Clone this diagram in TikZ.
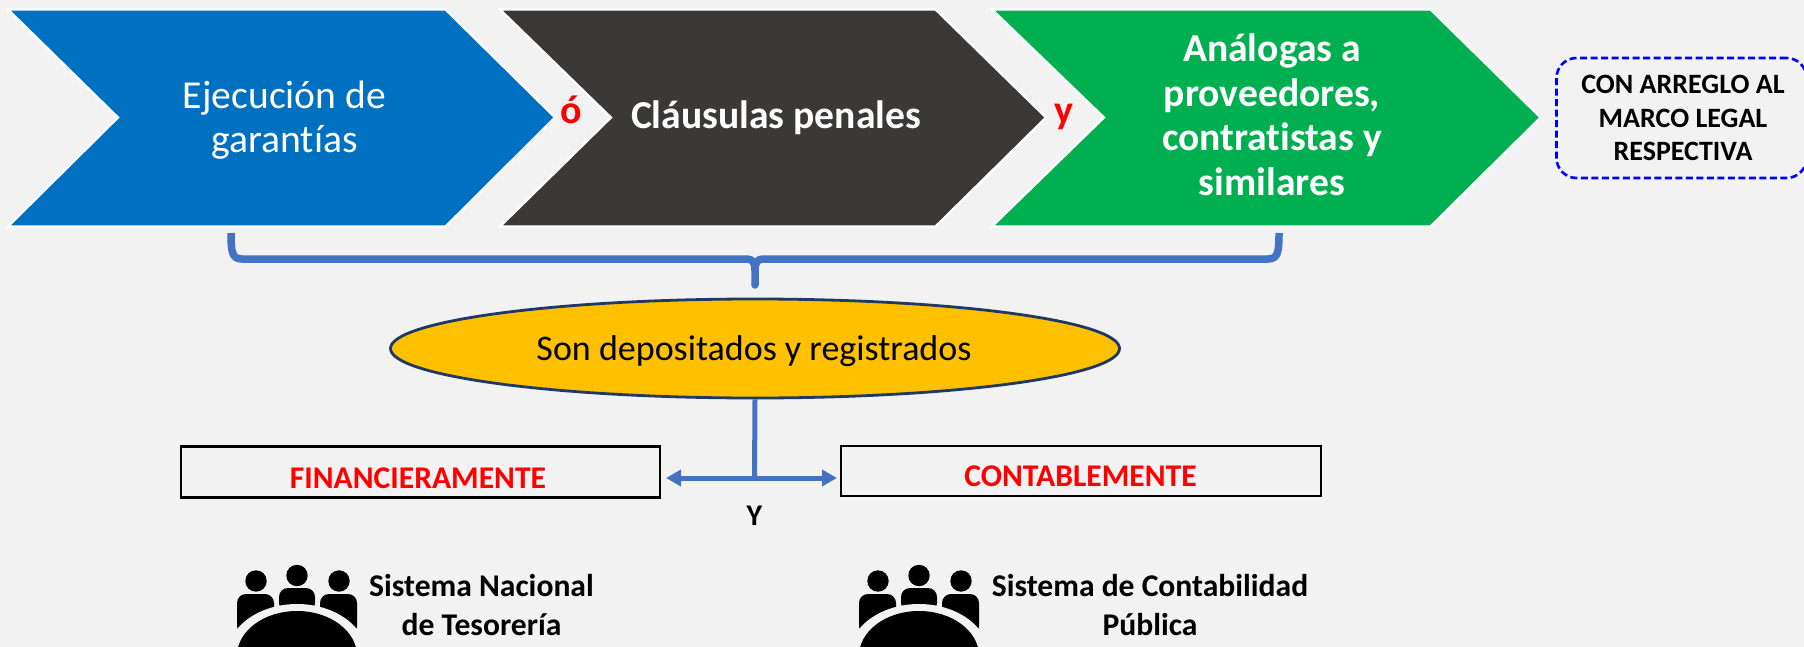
\documentclass[tikz,border=0pt]{standalone}
\usepackage{fontspec}
\setmainfont{Carlito}[Ligatures=CommonOff]
\usetikzlibrary{arrows.meta,shapes.geometric}
\definecolor{bg}{HTML}{F2F2F2}
\definecolor{cblue}{HTML}{0070C0}
\definecolor{cdark}{HTML}{3B3838}
\definecolor{cgreen}{HTML}{00B050}
\definecolor{cline}{HTML}{4472C4}
\definecolor{cgold}{HTML}{FFC000}
\definecolor{cnavy}{HTML}{1F3864}
\tikzset{
  x=1pt,y=-1pt,
  chev/.style={draw=white,line width=2.2pt,line join=miter},
  big/.style={font=\fontsize{39.6}{44.5}\selectfont,align=center,inner sep=0pt,text=white},
  bigb/.style={big,font=\fontsize{39.6}{44.5}\selectfont\bfseries},
  conn/.style={cline,line width=5pt},
  bracket/.style={cline,line width=7.5pt,line join=round},
  rbox/.style={draw=black,line width=2.5pt,fill=none,inner sep=0pt},
  redlab/.style={font=\fontsize{31.6}{36}\selectfont\bfseries,text=red,inner sep=0pt,anchor=base},
  sys/.style={font=\fontsize{31.6}{38.5}\selectfont\bfseries,align=center,inner sep=0pt},
  conj/.style={font=\fontsize{40}{44}\selectfont\bfseries,text=red,inner sep=0pt,anchor=base},
}
\newcommand{\peopleicon}[1]{%
 \begin{scope}[shift={(#1,0)}]
  \fill (256,581) circle (10.7);
  \fill (297,575.5) circle (10.7);
  \fill (339,581) circle (10.7);
  \fill[rounded corners=9pt] (237,635) -- (237,594) -- (274,594) -- (274,635) -- cycle;
  \fill[rounded corners=9pt] (279,612) -- (279,588) -- (315,588) -- (315,612) -- cycle;
  \fill[rounded corners=9pt] (320,635) -- (320,594) -- (357,594) -- (357,635) -- cycle;
  \fill[bg] (297,656) ellipse (70 and 52);
  \fill (297,656) ellipse (60 and 45);
 \end{scope}}
\begin{document}
\begin{tikzpicture}
\path[use as bounding box,clip] (0,0) rectangle (1804,647);
\fill[bg] (0,0) rectangle (1804,647);
% chevrons
\filldraw[chev,fill=cblue] (8,9.5) -- (445.5,9.5) -- (555,117.5) -- (445.5,226.5) -- (8,226.5) -- (118,117.5) -- cycle;
\filldraw[chev,fill=cdark] (500,9.5) -- (935.5,9.5) -- (1046,117.5) -- (935.5,226.5) -- (500,226.5) -- (611,117.5) -- cycle;
\filldraw[chev,fill=cgreen] (992,9.5) -- (1430.5,9.5) -- (1540.5,117.5) -- (1430.5,226.5) -- (992,226.5) -- (1104,117.5) -- cycle;
\node[big] (ejec) at (284.5,120) {Ejecución de\\garantías};
\node[bigb,anchor=base] (clau) at (776,129) {Cláusulas penales};
\node[bigb] (anal) at (1272,115) {Análogas a\\proveedores,\\contratistas y\\similares};
\node[conj] (o) at (571,124) {ó};
\node[conj] (yy) at (1064,124) {y};
% note
\node[draw=blue,dashed,line width=2.6pt,dash pattern=on 7pt off 3.5pt,rounded corners=20pt,minimum width=250pt,minimum height=120pt,inner sep=0pt] (note) at (1681.5,118) {};
\node[font=\fontsize{28}{33.5}\selectfont\bfseries,align=center,inner sep=0pt] (notet) at (1683,118) {CON ARREGLO AL\\MARCO LEGAL\\RESPECTIVA};
% bracket
\coordinate (bl) at (231,233);
\coordinate (br) at (1279,233);
\coordinate (bm) at (755,285);
\draw[bracket] (bl) .. controls (231,252) and (232,259) .. (242,259) -- (747,259) .. controls (753,259) and (755,263) .. (755,271) -- (bm);
\draw[bracket] (br) .. controls (1279,252) and (1278,259) .. (1268,259) -- (763,259) .. controls (757,259) and (755,263) .. (755,271);
\fill[cline] (bm) circle (3.75);
% ellipse
\node[ellipse,draw=cnavy,fill=cgold,line width=2.8pt,minimum width=729pt,minimum height=99pt,inner sep=0pt] (ell) at (755,348.5) {};
\node[font=\fontsize{36}{44}\selectfont,inner sep=0pt,anchor=base] (ellt) at (754,360) {Son depositados y registrados};
% boxes
\node[rbox,minimum width=479pt,minimum height=51pt] (fin) at (420.5,472) {};
\node[rbox,minimum width=480pt,minimum height=50pt] (con) at (1081,471) {};
\node[redlab] (fint) at (418,488) {FINANCIERAMENTE};
\node[redlab] (cont) at (1080.5,486) {CONTABLEMENTE};
% tee connector
\coordinate (jn) at (754.5,478);
\draw[conn] (ell.south) -- (jn);
\draw[conn,{Triangle[length=15pt,width=16pt]}-{Triangle[length=15pt,width=16pt]}] (666,478) coordinate (al) -- (837,478) coordinate (ar);
\node[font=\fontsize{30}{34}\selectfont\bfseries,inner sep=0pt,anchor=base] (yl) at (754.5,525) {Y};
% icons
\peopleicon{0}
\peopleicon{622}
\node[sys] (s1) at (481.5,605) {Sistema Nacional\\de Tesorería};
\node[sys] (s2) at (1150,605) {Sistema de Contabilidad\\Pública};
\end{tikzpicture}
\end{document}
